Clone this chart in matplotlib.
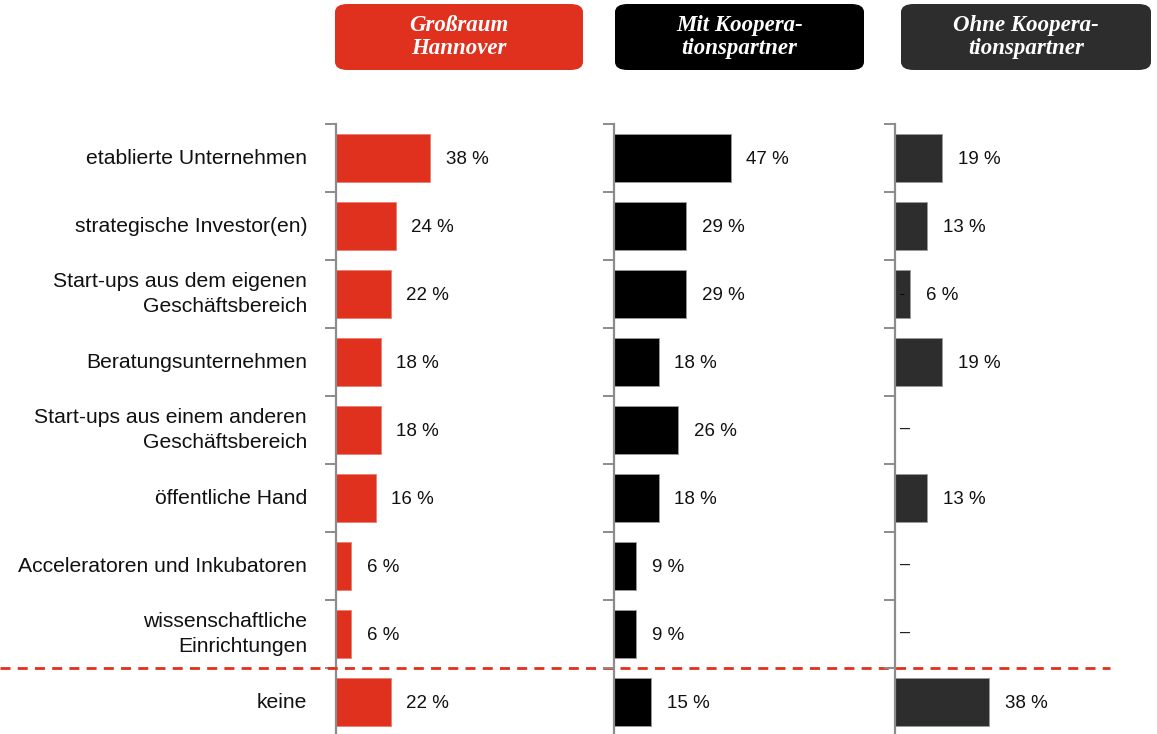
import matplotlib
matplotlib.use("Agg")
import matplotlib.pyplot as plt
import matplotlib.transforms as mtransforms
from matplotlib.patches import FancyBboxPatch
import numpy as np

plt.rcParams["font.family"] = ["Liberation Sans", "DejaVu Sans"]

categories = [
    "etablierte Unternehmen",
    "strategische Investor(en)",
    "Start-ups aus dem eigenen\nGeschäftsbereich",
    "Beratungsunternehmen",
    "Start-ups aus einem anderen\nGeschäftsbereich",
    "öffentliche Hand",
    "Acceleratoren und Inkubatoren",
    "wissenschaftliche\nEinrichtungen",
    "keine",
]
grossraum = [38, 24, 22, 18, 18, 16, 6, 6, 22]
mit_koop = [47, 29, 29, 18, 26, 18, 9, 9, 15]
ohne_koop = [19, 13, 6, 19, None, 13, None, None, 38]

headers = ["Großraum\nHannover", "Mit Koopera-\ntionspartner", "Ohne Koopera-\ntionspartner"]
colors = ["#E0301E", "#000000", "#2D2D2D"]
edges = ["#e8806f", "#9a9a9a", "#9a9a9a"]

W, H = 1157, 734
fig = plt.figure(figsize=(W / 100, H / 100), dpi=100)

axis_x = [336, 614, 895]      # pixel positions of the panel baselines
box_x = [(335, 583), (615, 864), (901, 1151)]
ax_top, ax_bot = 124, 736
px_per_pct = 2.48
panel_w = 255

y = np.arange(len(categories))
series = [grossraum, mit_koop, ohne_koop]
axes = []
for i, (vals, col) in enumerate(zip(series, colors)):
    ax = fig.add_axes([axis_x[i] / W, 1 - ax_bot / H, panel_w / W, (ax_bot - ax_top) / H])
    ax.patch.set_visible(False)
    ax.set_xlim(0, panel_w / px_per_pct)
    ax.set_ylim(len(categories) - 0.5, -0.5)
    for yi, v in zip(y, vals):
        if v is None:
            ax.text(2.2, yi - 0.03, "–", ha="left", va="center", fontsize=13, color="#222222")
            continue
        ax.barh(yi, v, height=0.7, color=col, edgecolor=edges[i], linewidth=0.6)
        ax.text(v + 6.3, yi + 0.02, f"{v} %", ha="left", va="center", fontsize=13.5,
                color="#111111")
    for s in ["top", "right", "bottom"]:
        ax.spines[s].set_visible(False)
    ax.spines["left"].set_color("#8c8c8c")
    ax.spines["left"].set_linewidth(1.6)
    ax.set_xticks([])
    ax.set_yticks(np.arange(-0.5, len(categories), 1.0))
    ax.set_yticklabels([])
    ax.tick_params(axis="y", length=8, width=1.4, color="#8c8c8c")
    axes.append(ax)

    # header box
    x0, x1 = box_x[i]
    box = FancyBboxPatch((x0 / W, 1 - 70 / H), (x1 - x0) / W, 66 / H,
                         boxstyle="round,pad=0,rounding_size=0.011",
                         transform=fig.transFigure, facecolor=col, edgecolor="none")
    fig.add_artist(box)
    fig.text((x0 + x1) / 2 / W, 1 - 37 / H, headers[i], ha="center", va="center",
             color="white", fontsize=16.5, fontweight="bold", fontstyle="italic",
             family="Liberation Serif", linespacing=1.12)

# small stray mark inside the 6 % bar of the last panel
axes[2].text(1.6, 2, "-", ha="left", va="center", fontsize=11, color="#000000")

# category labels
for yi, lab in zip(y, categories):
    axes[0].text(-29 / px_per_pct, yi, lab, ha="right", va="center",
                 fontsize=15.2, color="#111111", linespacing=1.35)

# dashed separator before "keine"
trans = mtransforms.blended_transform_factory(fig.transFigure, axes[0].transData)
axes[0].plot([0, 1110 / W], [7.5, 7.5], transform=trans, color="#E0301E",
             linestyle=(0, (3.6, 2.6)), linewidth=2.0, clip_on=False, zorder=5)

fig.savefig("out.png", dpi=100)
